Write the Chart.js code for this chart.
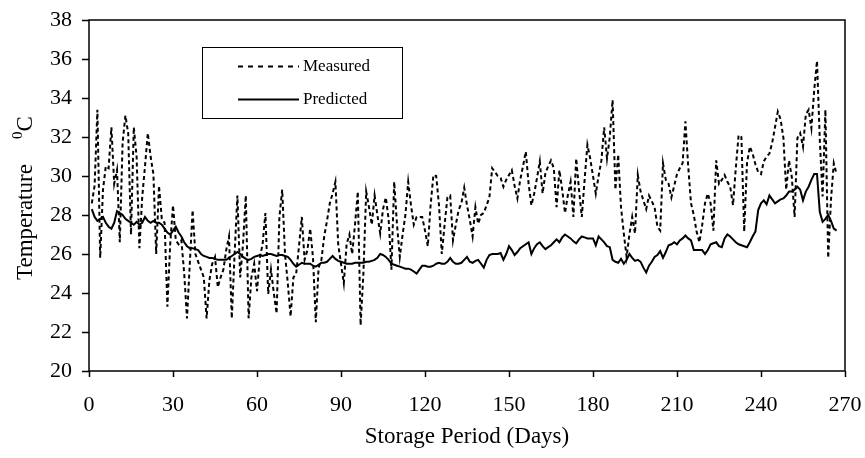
<!DOCTYPE html>
<html>
<head>
<meta charset="utf-8">
<script src="https://cdn.jsdelivr.net/npm/chart.js@4.4.1/dist/chart.umd.min.js"></script>
<style>
html,body{margin:0;padding:0;background:#fff;}
canvas{display:block;}
</style>
</head>
<body>
<canvas id="c" width="865" height="458"></canvas>
<script>
const FONT = "'Liberation Serif', 'Times New Roman', serif";

const xTickValues = [0, 30, 60, 90, 120, 150, 180, 210, 240, 270];
const yTickValues = [20, 22, 24, 26, 28, 30, 32, 34, 36, 38];
const xTitle = "Storage Period (Days)";
const yTitle = "Temperature";
const yUnitSup = "0";
const yUnit = "C";
const seriesNames = ["Measured", "Predicted"];
const firstDay = 1;

const measured = [
  28.6, 29.5, 33.4, 25.8, 29.3, 30.5, 30.4, 32.5, 29.6, 30.3,
  26.6, 31.7, 33.1, 32.2, 27.0, 32.5, 31.0, 26.3, 28.9, 30.5,
  32.2, 31.0, 30.1, 26.0, 29.5, 27.8, 27.6, 23.3, 26.5, 28.5,
  26.7, 26.5, 26.7, 25.0, 22.7, 25.5, 28.25, 26.0, 25.6, 25.2,
  24.8, 22.7, 24.65, 25.5, 25.85, 24.3, 24.8, 25.2, 26.2, 26.9,
  22.7, 26.0, 29.0, 24.8, 26.5, 29.0, 22.7, 24.8, 25.5, 24.1,
  25.8, 26.5, 28.1, 23.95, 25.2, 24.0, 22.95, 27.9, 29.3, 26.0,
  24.5, 22.8, 24.8, 25.0, 26.4, 27.9, 25.7, 26.2, 27.3, 25.8,
  22.5, 25.3, 25.7, 26.9, 27.7, 28.6, 29.1, 29.7, 26.5, 25.5,
  24.5, 26.5, 27.0, 26.0, 27.5, 29.2, 22.35, 25.0, 29.2, 28.4,
  27.5, 29.0, 28.0, 27.05, 28.3, 28.9, 27.8, 25.2, 29.7, 27.5,
  25.85, 27.0, 28.0, 29.7, 28.5, 27.5, 27.9, 27.9, 27.9, 27.2,
  26.4, 28.5, 30.05, 30.0, 28.5, 26.0, 27.5, 28.9, 29.0, 26.7,
  27.5, 28.25, 28.6, 29.4, 28.5, 27.75, 26.9, 28.4, 27.55, 28.0,
  28.1, 28.5, 28.9, 30.4, 30.2, 30.0, 29.9, 29.45, 29.8, 30.05,
  30.3, 29.5, 28.85, 29.8, 30.5, 31.25, 29.6, 28.5, 29.1, 29.9,
  30.75, 29.1, 30.15, 30.5, 30.8, 30.4, 28.4, 30.3, 29.3, 28.1,
  29.0, 29.7, 27.9, 30.9, 29.3, 27.9, 29.8, 31.6, 30.9, 30.0,
  29.1, 30.0, 30.8, 32.5, 30.9, 32.0, 33.9, 29.3, 31.1, 28.4,
  27.05, 25.85, 27.0, 27.9, 27.05, 30.05, 29.2, 28.75, 28.3, 29.0,
  28.7, 28.4, 27.4, 27.2, 30.65, 29.8, 29.6, 28.9, 29.5, 30.1,
  30.4, 30.65, 32.8, 30.5, 28.6, 28.0, 27.15, 26.6, 27.5, 28.6,
  29.1, 28.6, 27.2, 30.8, 29.6, 29.8, 30.05, 29.7, 29.45, 28.5,
  30.4, 32.1, 32.0, 27.15, 30.65, 31.5, 31.15, 30.6, 30.2, 30.1,
  30.75, 31.0, 31.15, 31.7, 32.5, 33.3, 32.9, 31.95, 29.3, 30.8,
  29.95, 27.9, 31.95, 32.2, 31.5, 33.15, 33.4, 32.45, 34.4, 35.9,
  31.85, 28.95, 33.4, 25.8, 28.8, 30.65, 30.1
];

const predicted = [
  28.3, 27.9, 27.7, 27.8, 27.9, 27.6, 27.4, 27.3, 27.6, 28.2,
  28.1, 28.0, 27.8, 27.7, 27.6, 27.5, 27.65, 27.5, 27.6, 27.9,
  27.7, 27.6, 27.7, 27.6, 27.6, 27.5, 27.3, 27.1, 27.0, 27.2,
  27.4, 27.1, 26.9, 26.6, 26.4, 26.3, 26.3, 26.25, 26.2, 26.0,
  25.9, 25.85, 25.8, 25.8, 25.75, 25.7, 25.7, 25.7, 25.7, 25.8,
  25.9, 26.0, 26.1, 26.0, 25.85, 25.75, 25.7, 25.75, 25.85, 25.9,
  25.95, 25.9, 25.95, 26.0, 26.0, 25.95, 25.9, 25.95, 25.95, 25.9,
  25.85, 25.7, 25.5, 25.35, 25.45, 25.55, 25.5, 25.5, 25.5, 25.4,
  25.35, 25.45, 25.55, 25.55, 25.6, 25.75, 25.9, 25.75, 25.65, 25.6,
  25.55, 25.5, 25.5, 25.5, 25.55, 25.55, 25.55, 25.55, 25.6, 25.6,
  25.65, 25.7, 25.8, 26.0, 25.95, 25.85, 25.7, 25.5, 25.45, 25.4,
  25.35, 25.3, 25.25, 25.25, 25.2, 25.1, 25.0, 25.2, 25.4, 25.4,
  25.35, 25.35, 25.4, 25.5, 25.55, 25.5, 25.5, 25.6, 25.8, 25.6,
  25.5, 25.5, 25.55, 25.7, 25.85, 25.6, 25.55, 25.65, 25.7, 25.5,
  25.3, 25.7, 25.95, 26.0, 26.0, 26.0, 26.05, 25.7, 26.0, 26.4,
  26.2, 25.95, 26.1, 26.3, 26.4, 26.5, 26.6, 26.0, 26.3, 26.5,
  26.6, 26.4, 26.25, 26.35, 26.45, 26.6, 26.75, 26.6, 26.85, 27.0,
  26.9, 26.8, 26.65, 26.55, 26.75, 26.9, 26.85, 26.8, 26.8, 26.8,
  26.45, 26.9, 26.75, 26.6, 26.4, 26.35, 25.7, 25.6, 25.55, 25.75,
  25.5, 25.7, 26.0, 25.8, 25.65, 25.7, 25.6, 25.3, 25.05, 25.4,
  25.6, 25.85, 25.95, 26.15, 25.8, 26.1, 26.45, 26.5, 26.6, 26.5,
  26.7, 26.8, 26.95, 26.8, 26.7, 26.2, 26.2, 26.2, 26.2, 26.0,
  26.2, 26.5, 26.55, 26.6, 26.4, 26.35, 26.8, 27.0, 26.9, 26.75,
  26.6, 26.5, 26.45, 26.4, 26.35, 26.6, 26.9, 27.15, 28.25, 28.6,
  28.75, 28.55, 29.0, 28.8, 28.6, 28.7, 28.8, 28.85, 29.0, 29.2,
  29.2, 29.3, 29.45, 29.3, 28.75, 29.2, 29.45, 29.8, 30.1, 30.1,
  28.15, 27.65, 27.8, 28.0, 27.7, 27.3, 27.2
];

const toPoints = arr => arr.map((v, i) => ({ x: firstDay + i, y: v }));

const framePlugin = {
  id: 'frame',
  afterDraw(chart) {
    const { ctx, chartArea: a } = chart;
    ctx.save();
    ctx.strokeStyle = '#000';
    ctx.lineWidth = 1.5;
    ctx.strokeRect(a.left, a.top, a.right - a.left, a.bottom - a.top);
    ctx.restore();
  }
};

const legendPlugin = {
  id: 'boxLegend',
  afterDraw(chart) {
    const ctx = chart.ctx;
    const ds = chart.data.datasets;
    ctx.save();
    ctx.strokeStyle = '#000';
    ctx.lineWidth = 1;
    ctx.strokeRect(202.5, 47.5, 200, 71);
    const rows = [66.5, 99.5];
    ds.forEach((d, i) => {
      ctx.beginPath();
      ctx.lineWidth = 2;
      ctx.setLineDash(i === 0 ? [5, 5] : []);
      ctx.moveTo(238, rows[i]);
      ctx.lineTo(299, rows[i]);
      ctx.stroke();
      ctx.setLineDash([]);
      ctx.fillStyle = '#000';
      ctx.font = "17px " + FONT;
      ctx.textBaseline = 'middle';
      ctx.textAlign = 'left';
      ctx.fillText(d.label, 303, rows[i] + 0.5);
    });
    ctx.restore();
  }
};

const yTitlePlugin = {
  id: 'yTitle',
  afterDraw(chart) {
    const ctx = chart.ctx;
    ctx.save();
    ctx.translate(32, 280);
    ctx.rotate(-Math.PI / 2);
    ctx.fillStyle = '#000';
    ctx.textBaseline = 'alphabetic';
    ctx.textAlign = 'left';
    ctx.font = "23px " + FONT;
    const w = ctx.measureText(yTitle).width;
    ctx.fillText(yTitle, 0, 0);
    const sx = Math.max(w + 18, 141);
    ctx.font = "15px " + FONT;
    ctx.fillText(yUnitSup, sx, -10);
    const sw = ctx.measureText(yUnitSup).width;
    ctx.font = "23px " + FONT;
    ctx.fillText(yUnit, sx + sw, 0);
    ctx.restore();
  }
};

new Chart(document.getElementById('c'), {
  type: 'line',
  data: {
    datasets: [
      {
        label: seriesNames[0],
        data: toPoints(measured),
        borderColor: '#000',
        borderWidth: 2,
        borderDash: [4, 3],
        pointRadius: 0,
        tension: 0,
        fill: false
      },
      {
        label: seriesNames[1],
        data: toPoints(predicted),
        borderColor: '#000',
        borderWidth: 2,
        pointRadius: 0,
        tension: 0,
        fill: false
      }
    ]
  },
  options: {
    responsive: false,
    devicePixelRatio: 1,
    animation: false,
    layout: { padding: { left: 0, right: 20, top: 20, bottom: 0 } },
    plugins: {
      legend: { display: false },
      tooltip: { enabled: false }
    },
    scales: {
      x: {
        type: 'linear',
        min: xTickValues[0],
        max: xTickValues[xTickValues.length - 1],
        afterBuildTicks: s => { s.ticks = xTickValues.map(v => ({ value: v })); },
        afterFit: s => { s.height = 87; s.paddingLeft = 0; s.paddingRight = 0; },
        ticks: {
          color: '#000',
          font: { family: FONT, size: 22 },
          padding: 15,
          maxRotation: 0,
          autoSkip: false
        },
        grid: {
          drawOnChartArea: false,
          drawTicks: true,
          tickLength: 6,
          tickColor: '#000',
          tickWidth: 1.5
        },
        border: { display: false },
        title: {
          display: true,
          text: xTitle,
          color: '#000',
          font: { family: FONT, size: 23 },
          padding: { top: 0, bottom: 7 }
        }
      },
      y: {
        type: 'linear',
        min: yTickValues[0],
        max: yTickValues[yTickValues.length - 1],
        afterBuildTicks: s => { s.ticks = yTickValues.map(v => ({ value: v })); },
        afterFit: s => { s.width = 89; s.paddingTop = 0; s.paddingBottom = 0; },
        ticks: {
          color: '#000',
          font: { family: FONT, size: 22 },
          padding: 10,
          autoSkip: false
        },
        grid: {
          drawOnChartArea: false,
          drawTicks: true,
          tickLength: 7,
          tickColor: '#000',
          tickWidth: 1.5
        },
        border: { display: false }
      }
    }
  },
  plugins: [framePlugin, legendPlugin, yTitlePlugin]
});
</script>
</body>
</html>
